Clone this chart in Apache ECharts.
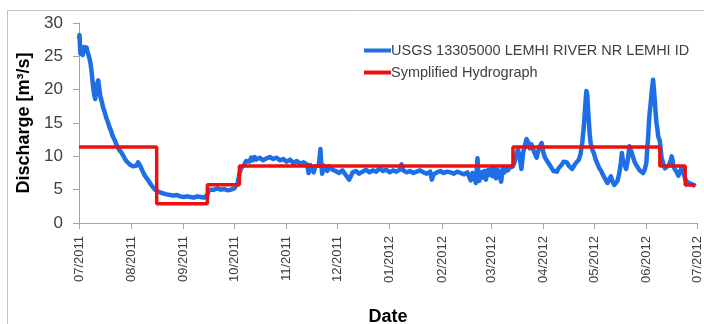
<!DOCTYPE html>
<html><head><meta charset="utf-8">
<script src="https://cdn.jsdelivr.net/npm/echarts@6/dist/echarts.min.js"></script>
<style>html,body{margin:0;padding:0;background:#fff}#c{width:704px;height:324px}</style>
</head><body><div id="c"></div>
<script>
// Month tick labels
var monthLabels = ['07/2011','08/2011','09/2011','10/2011','11/2011','12/2011','01/2012','02/2012','03/2012','04/2012','05/2012','06/2012','07/2012'];
// Observed discharge: day offset from 2011-07-01, value m3/s
var flowDay = [0,0.3,0.8,1.5,2.2,3,3.8,4.5,5.2,6,6.8,7.5,8.3,9,9.6,10.2,10.8,11.4,12,12.7,13.5,14.3,15,16,17,18,19,20,21,22,23,24,25,26,27,28,29,30,31,32,33,34,35,36,37,38,39,40,41,42,43,44,45,46,47,48,49,50,52,54,56,58,60,62,64,66,68,70,72,74,75,76,77,78,80,82,84,86,88,90,92,93,94,95,96,97,98,99,100,101,102,103,104,105,107,109,111,113,115,117,119,121,123,125,127,129,131,133,135,136,137,138,139,140,141,142,143,143.5,144,145,146,147,148,149,150,152,154,156,158,160,161,162,164,166,168,170,172,174,176,178,180,182,184,186,188,190,191,192,194,196,198,200,202,204,206,208,209,210,212,214,216,218,220,222,224,226,228,230,232,233,234,235,236,236.5,237,238,239,240,241,242,243,244,245,246,247,248,249,250,251,252,253,254,255,256,257,258,259,260,261,262,263,264,265,266,267,268,269,270,271,272,273,274,275,276,277,278,279,280,281,282,283,284,285,286,287,288,289,290,291,292,293,294,295,296,297,298,299,300,300.5,301,301.5,302,302.5,303,304,305,306,307,308,309,310,311,312,313,314,315,316,317,318,319,320,321,321.5,322,323,324,325,326,327,328,329,330,331,332,333,334,335,336,336.5,337,337.5,338,338.5,339,339.5,340,340.5,341,341.5,342,342.5,343,344,344.5,345,346,347,348,349,350,351,351.5,352,353,354,355,356,357,358,359,360,361,362,363,364,365];
var flowValue = [27.6,28.2,25.4,26.0,25.2,26.4,25.9,26.3,25.5,24.9,24.0,22.6,20.6,19.2,18.6,19.8,20.9,21.4,20.2,18.9,18.2,17.3,16.8,15.9,15.2,14.4,13.8,13.0,12.5,11.9,11.3,11.0,10.6,10.2,9.7,9.3,9.0,8.8,8.9,8.5,8.8,8.6,9.1,8.7,8.4,7.6,7.1,6.8,6.4,6.0,5.6,5.3,5.0,4.9,4.7,4.6,4.5,4.4,4.3,4.2,4.1,4.2,4.0,3.9,4.0,3.9,3.8,4.0,3.9,3.8,3.7,4.2,5.0,5.1,5.0,5.2,5.0,5.1,4.9,5.0,5.2,5.4,6.0,7.4,8.2,8.5,8.8,9.3,9.6,9.2,9.8,9.4,9.9,9.5,9.8,9.4,9.7,9.9,9.6,9.8,9.4,9.6,9.2,9.5,9.0,9.3,8.9,9.1,8.8,7.5,8.7,9.0,7.6,8.5,8.8,8.6,11.1,8.7,7.4,8.6,8.9,7.8,8.5,8.2,8.0,7.8,7.5,7.9,7.2,6.5,7.0,7.6,7.8,7.4,7.7,8.0,7.6,7.9,7.7,8.2,7.8,8.0,7.6,7.9,7.7,8.0,8.8,7.9,7.6,7.8,7.5,7.7,7.9,7.6,7.4,7.7,6.5,7.3,7.6,7.8,7.5,7.7,7.6,7.4,7.7,7.5,7.3,7.6,6.4,7.5,7.0,6.0,9.7,7.4,6.3,7.6,6.8,7.8,6.5,7.9,7.2,8.2,7.0,8.3,6.7,8.0,7.3,6.2,8.2,7.6,8.4,7.9,8.3,8.6,8.5,9.2,10.4,11.0,9.8,8.1,10.5,11.6,12.6,12.1,11.2,11.8,11.0,10.4,9.8,10.8,11.5,12.0,10.6,9.8,9.4,9.0,8.6,8.3,7.8,8.0,7.7,8.2,8.5,8.8,9.2,9.5,9.1,8.6,8.3,8.1,8.4,8.9,9.2,9.5,10.3,12.0,14.5,18.3,19.8,19.2,17.0,15.0,13.2,12.0,11.0,10.4,9.5,8.9,8.3,7.9,7.4,6.9,6.4,6.0,6.3,7.0,6.2,5.7,5.9,6.4,7.5,9.2,10.5,9.6,8.8,8.1,9.4,11.5,10.8,10.0,9.2,8.7,8.3,7.9,7.6,7.5,8.0,9.0,11.0,12.6,15.0,16.6,17.8,19.2,20.5,21.5,20.0,18.4,16.5,15.0,14.2,13.0,12.3,11.0,9.8,8.9,8.2,7.9,8.6,9.0,10.0,9.4,8.5,8.0,7.6,7.1,7.0,8.4,7.6,6.6,6.2,6.0,5.9,5.6,5.7,5.5];
// Simplified hydrograph steps
var stepDates = ['2011-07-01','2011-08-16','2011-09-15','2011-10-04','2012-03-14','2012-06-09','2012-06-24','2012-06-30'];
var stepValues = [11.4,2.9,5.75,8.55,11.4,8.55,5.7,5.7];

var base = new Date(2011,6,1).getTime();
var DAY = 86400000;
function parseD(s){var p=s.split('-');return new Date(+p[0],+p[1]-1,+p[2]).getTime();}
var monthTs = monthLabels.map(function(l){var p=l.split('/');return new Date(+p[1],+p[0]-1,1).getTime();});
var blue = flowDay.map(function(d,i){return [base+d*DAY, flowValue[i]];});
var red = stepDates.map(function(d,i){return [parseD(d), stepValues[i]];});
var FONT = 'Liberation Sans';
var chart = echarts.init(document.getElementById('c'));
chart.setOption({
  animation:false,
  backgroundColor:'#fff',
  textStyle:{fontFamily:FONT},
  graphic:[{type:'rect',shape:{x:7.5,y:10.5,width:900,height:500},style:{fill:'none',stroke:'#c4c4c4',lineWidth:1},z:-1}],
  grid:{left:79,right:7,top:23,bottom:101,containLabel:false,outerBoundsMode:'none'},
  legend:{orient:'vertical',left:359,top:38,itemWidth:27,itemHeight:4,itemGap:7,icon:'rect',
    textStyle:{fontFamily:FONT,fontSize:14.5,color:'#404040',padding:[0,0,0,-5]},
    data:['USGS 13305000 LEMHI RIVER NR LEMHI ID','Symplified Hydrograph']},
  xAxis:{type:'value',min:monthTs[0],max:monthTs[monthTs.length-1],
    name:'Date',nameLocation:'middle',nameGap:85,
    nameTextStyle:{fontFamily:FONT,fontSize:18,fontWeight:'bold',color:'#000'},
    axisLine:{lineStyle:{color:'#a6a6a6',width:1}},
    axisTick:{show:true,length:6,lineStyle:{color:'#a6a6a6'},customValues:monthTs},
    splitLine:{show:false},
    axisLabel:{rotate:90,margin:13,fontSize:13,color:'#404040',fontFamily:FONT,customValues:monthTs,
      hideOverlap:false,
      formatter:function(v){var i=monthTs.indexOf(v);return i>=0?monthLabels[i]:'';}}},
  yAxis:{type:'value',min:0,max:30,interval:5,
    name:'Discharge [m\u00b3/s]',nameLocation:'middle',nameGap:46,
    nameTextStyle:{fontFamily:FONT,fontSize:18,fontWeight:'bold',color:'#000'},
    axisLine:{show:true,lineStyle:{color:'#a6a6a6',width:1}},
    axisTick:{show:true,length:6,lineStyle:{color:'#a6a6a6'}},
    splitLine:{show:false},
    axisLabel:{margin:16,fontSize:17,color:'#404040',fontFamily:FONT}},
  series:[
    {name:'USGS 13305000 LEMHI RIVER NR LEMHI ID',type:'line',data:blue,showSymbol:false,symbol:'none',
      lineStyle:{color:'#1e6fe6',width:4.5,join:'round'},itemStyle:{color:'#1e6fe6'}},
    {name:'Symplified Hydrograph',type:'line',step:'end',data:red,showSymbol:false,symbol:'none',
      lineStyle:{color:'#ee1010',width:3.5},itemStyle:{color:'#ee1010'}}
  ]
});
</script></body></html>
